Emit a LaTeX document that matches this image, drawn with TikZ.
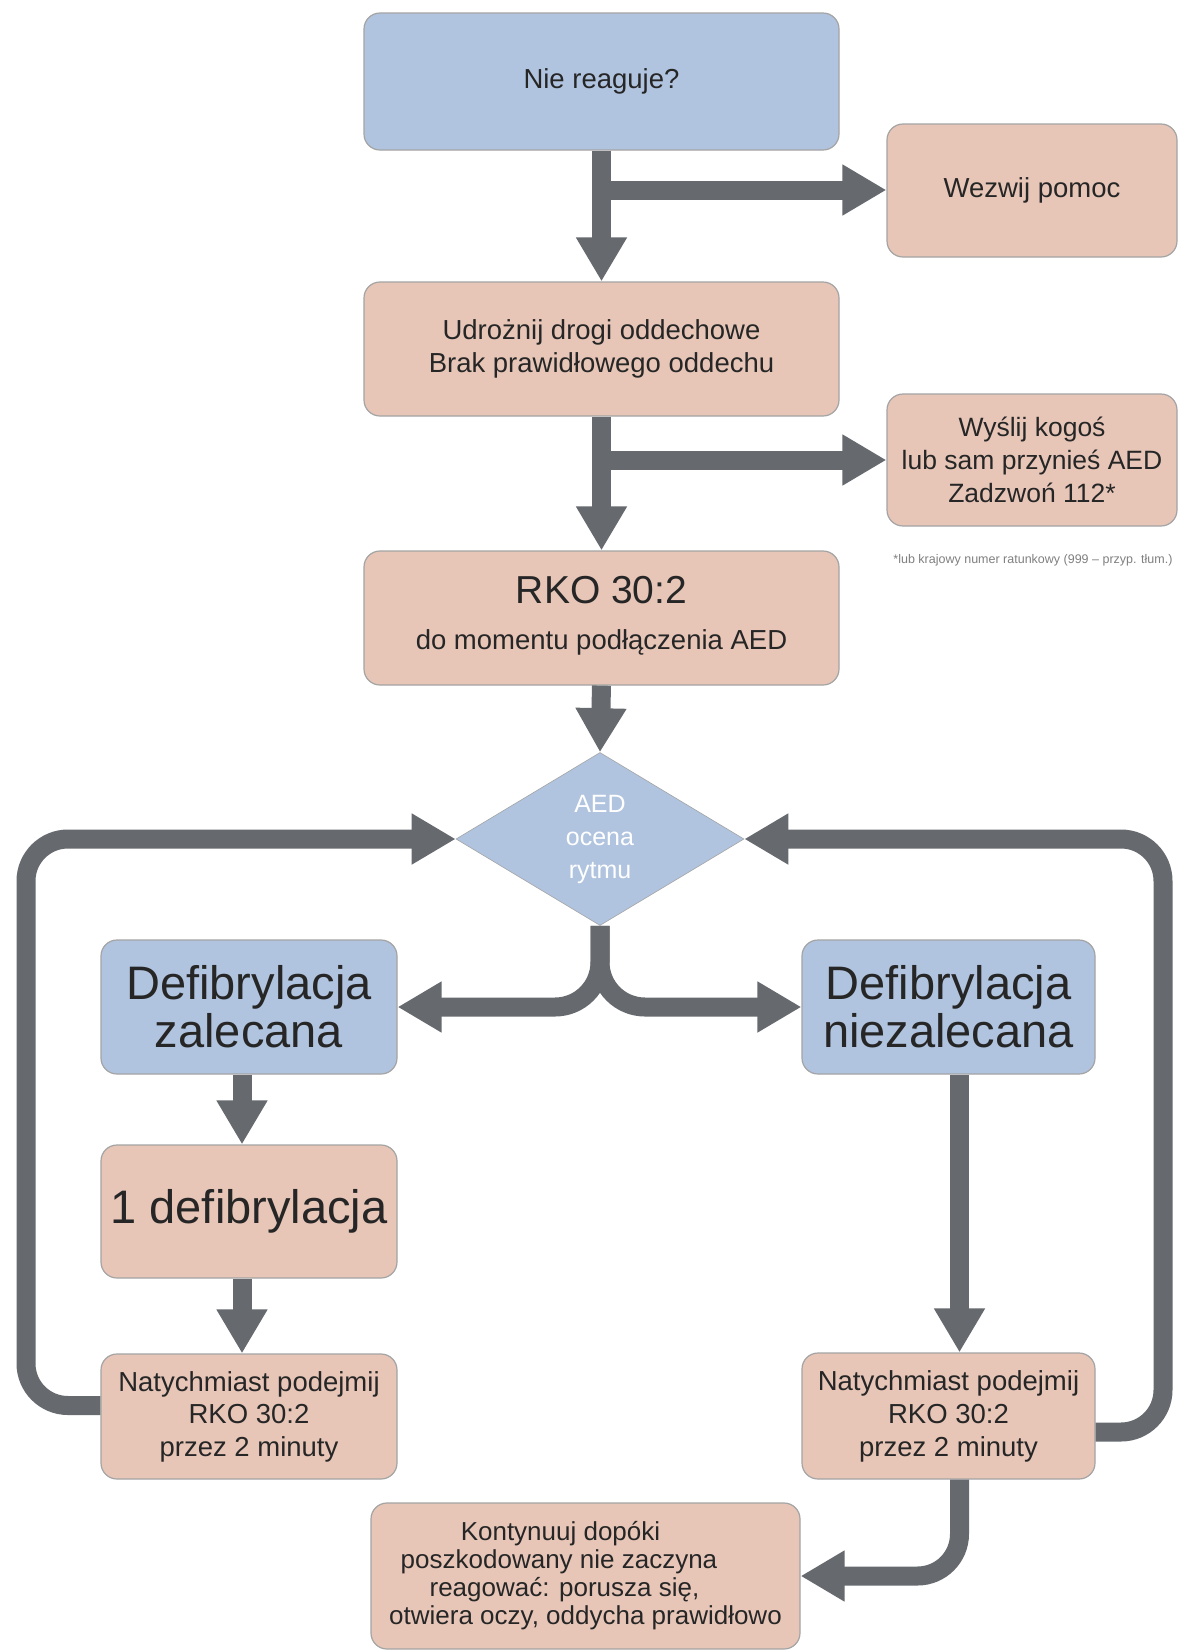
\documentclass[tikz,border=0pt]{standalone}
\usepackage{fontspec}
\setmainfont{Liberation Sans}
\usetikzlibrary{arrows.meta,shapes.geometric}
\definecolor{bluebox}{HTML}{B1C4DF}
\definecolor{pinkbox}{HTML}{E7C6B8}
\definecolor{arrowgray}{HTML}{666A6E}
\definecolor{txt}{HTML}{262626}
\definecolor{edgec}{HTML}{A4A4A4}
\begin{document}
\begin{tikzpicture}[x=1pt,y=-1pt,
  box/.style={draw=edgec, line width=1.2pt, rounded corners=16pt, inner sep=0pt, align=center, text=txt},
  bbox/.style={box, fill=bluebox},
  pbox/.style={box, fill=pinkbox},
  small/.style={font=\fontsize{27.5}{33}\selectfont},
  big/.style={font=\fontsize{47}{48}\selectfont},
  flow/.style={draw=arrowgray, line width=19pt, -{Triangle[length=44pt,width=48pt]}},
  loopflow/.style={flow, rounded corners=42pt}]
\path[use as bounding box, fill=white] (0,0) rectangle (1179,1650);

\node[bbox, small, minimum width=475pt, minimum height=137pt] (nie) at (601.5,81.5) {Nie reaguje?};
\node[pbox, small, minimum width=290pt, minimum height=133pt] (wez) at (1032,190.5) {Wezwij pomoc};
\node[pbox, small, minimum width=475pt, minimum height=134pt] (udr) at (601.5,349) {Udrożnij drogi oddechowe\\Brak prawidłowego oddechu};
\node[pbox, font=\fontsize{26.5}{33}\selectfont, minimum width=290pt, minimum height=132pt] (wys) at (1032,460) {Wyślij kogoś\\lub sam przynieś AED\\Zadzwoń 112*};
\node[text=gray, font=\fontsize{12.5}{14}\selectfont] (foot) at (1033,560) {*lub krajowy numer ratunkowy (999 – przyp. tłum.)};
\node[pbox, minimum width=475pt, minimum height=134pt] (rko) at (601.5,618) {};
\node[text=txt, font=\fontsize{39}{40}\selectfont] (rkoA) at (601.5,590) {RKO 30:2};
\node[text=txt, small] (rkoB) at (601.5,642) {do momentu podłączenia AED};
\node[diamond, fill=bluebox, draw=edgec, line width=0.6pt, minimum width=288pt, minimum height=173pt, inner sep=0pt, text=white, align=center, font=\fontsize{25}{33}\selectfont] (d) at (600,839) {AED\\ocena\\rytmu};
\node[bbox, big, minimum width=296pt, minimum height=134pt] (zal) at (249,1007) {Defibrylacja\\zalecana};
\node[bbox, big, minimum width=293pt, minimum height=134pt] (nzal) at (948.5,1007) {Defibrylacja\\niezalecana};
\node[pbox, font=\fontsize{47}{48}\selectfont, minimum width=296pt, minimum height=133pt] (def1) at (249,1211.5) {1 defibrylacja};
\node[pbox, font=\fontsize{27.5}{32.5}\selectfont, minimum width=296pt, minimum height=125pt] (nat1) at (249,1416.5) {Natychmiast podejmij\\RKO 30:2\\przez 2 minuty};
\node[pbox, font=\fontsize{27.5}{33}\selectfont, minimum width=293pt, minimum height=126pt] (nat2) at (948.5,1416) {Natychmiast podejmij\\RKO 30:2\\przez 2 minuty};
\node[pbox, font=\fontsize{26}{28}\selectfont, minimum width=429pt, minimum height=146pt] (kont) at (585.5,1576) {Kontynuuj dopóki\rule{50pt}{0pt}\\poszkodowany nie zaczyna\rule{53pt}{0pt}\\reagować: porusza się,\rule{42pt}{0pt}\\otwiera oczy, oddycha prawidłowo};

% connectors
\coordinate (b1) at (601.5,190);
\coordinate (b2) at (601.5,460);
\draw[flow] (nie.south) -- (udr.north);
\draw[flow] (b1) -- (b1 -| wez.west);
\draw[flow] (udr.south) -- (rko.north);
\draw[flow] (b2) -- (b2 -| wys.west);
\draw[flow] (rko.south) -- (d.north);
\draw[flow, rounded corners=45pt] (d.south) |- (zal.east);
\draw[flow, rounded corners=45pt] (d.south) |- (nzal.west);
\draw[flow] ([xshift=-7pt]zal.south) -- ([xshift=-7pt]def1.north);
\draw[flow] ([xshift=-7pt]def1.south) -- ([xshift=-7pt]nat1.north);
\draw[flow] ([xshift=11pt]nzal.south) -- ([xshift=11pt]nat2.north);
\coordinate (lc) at (26,1000);
\coordinate (rc) at (1163,1000);
\draw[loopflow] ([yshift=11pt]nat1.west) -| (lc) |- (d.west);
\draw[loopflow] ([yshift=-16pt]nat2.east) -| (rc) |- (d.east);
\draw[loopflow] ([xshift=11pt]nat2.south) |- (kont.east);
\end{tikzpicture}
\end{document}
